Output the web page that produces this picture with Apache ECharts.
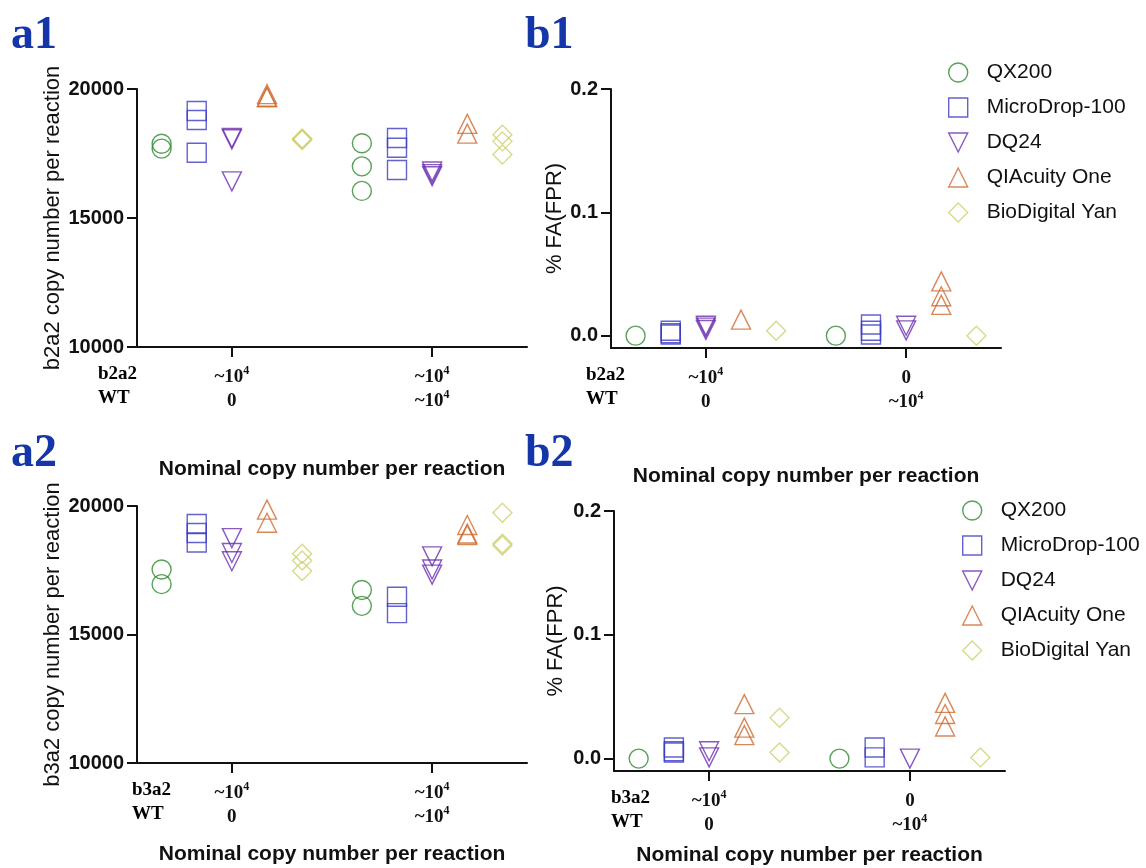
<!DOCTYPE html>
<html>
<head>
<meta charset="utf-8">
<script src="https://cdn.jsdelivr.net/npm/echarts@6/dist/echarts.min.js"></script>
<style>
  html, body { margin: 0; padding: 0; background: #fff; }
  #chart { width: 1146px; height: 868px; }
</style>
</head>
<body>
<div id="chart"></div>
<script>
  // instruments (legend order) and their marker / colour
  const instruments = ['QX200', 'MicroDrop-100', 'DQ24', 'QIAcuity One', 'BioDigital Yan'];
  const symbols = ['circle', 'rect', 'path://M0,0L10,0L5,10Z', 'triangle', 'diamond'];
  const colors = ['#2f8a2f', '#3b3bc4', '#6b2fb0', '#d06a30', '#cfcf6e'];

  // values per instrument: [group 1 replicates, group 2 replicates]
  const a1Values = [
    [[17880, 17690], [17900, 17000, 16050]],
    [[19150, 18800, 17530], [18100, 17720, 16860]],
    [[18100, 18050, 16420], [16800, 16700, 16620]],
    [[19800, 19700, 19680], [18650, 18270]],
    [[18080, 18020, 18050], [18230, 17970, 17460]]
  ];
  const b1Values = [
    [[0], [0]],
    [[0.004, 0.002, 0.001], [0.009, 0.004, 0.001]],
    [[0.008, 0.0065, 0.0046], [0.008, 0.0043]],
    [[0.013], [0.044, 0.032, 0.025]],
    [[0.004], [0]]
  ];
  const a2Values = [
    [[17530, 16960], [16730, 16115]],
    [[19300, 18950, 18580], [16470, 15830]],
    [[18750, 18170, 17850], [18040, 17530, 17330]],
    [[19860, 19350], [19260, 18930, 18870]],
    [[18140, 17880, 17470], [19740, 18530, 18460]]
  ];
  const b2Values = [
    [[0], [0]],
    [[0.009, 0.006, 0.005], [0.009, 0.001]],
    [[0.006, 0.001], [0]],
    [[0.044, 0.025, 0.019], [0.045, 0.036, 0.026]],
    [[0.033, 0.005], [0.001]]
  ];

  // tick labels
  const yTicksA = [10000, 15000, 20000];
  const yTicksB = [0, 0.1, 0.2];
  const groupLabelsA = [['~10^4', '0'], ['~10^4', '~10^4']];
  const groupLabelsB = [['~10^4', '0'], ['0', '~10^4']];
  const rowLabels1 = ['b2a2', 'WT'];
  const rowLabels2 = ['b3a2', 'WT'];

  const GROUP_GAP = 5.7;   // distance between the two groups on the x scale
  const SANS = '"Liberation Sans", Arial, sans-serif';
  const SERIF = '"Liberation Serif", "Times New Roman", serif';

  const panels = [
    { letter: 'a1', values: a1Values, yName: 'b2a2 copy number per reaction', labels: groupLabelsA, rows: rowLabels1,
      grid: { left: 137, top: 89, width: 390, height: 258 }, yGap: 73, xGap: 112, rowX: 98, letterPos: [11, 13] },
    { letter: 'b1', values: b1Values, yName: '% FA(FPR)', labels: groupLabelsB, rows: rowLabels1,
      grid: { left: 611, top: 89, width: 390, height: 259 }, yGap: 44, xGap: 118, rowX: 586, letterPos: [525, 13] },
    { letter: 'a2', values: a2Values, yName: 'b3a2 copy number per reaction', labels: groupLabelsA, rows: rowLabels2,
      grid: { left: 137, top: 506, width: 390, height: 257 }, yGap: 73, xGap: 81, rowX: 132, letterPos: [11, 431] },
    { letter: 'b2', values: b2Values, yName: '% FA(FPR)', labels: groupLabelsB, rows: rowLabels2,
      grid: { left: 614, top: 511, width: 391, height: 260 }, yGap: 47, xGap: 74, rowX: 611, letterPos: [525, 431] }
  ];

  function supText(s) {
    return s.indexOf('^') >= 0 ? '{m|' + s.split('^')[0] + '}{s|' + s.split('^')[1] + '}' : '{m|' + s + '}';
  }

  const richTick = {
    m: { fontFamily: SERIF, fontWeight: 'bold', fontSize: 19, lineHeight: 24, color: '#111' },
    s: { fontFamily: SERIF, fontWeight: 'bold', fontSize: 12, lineHeight: 14, verticalAlign: 'top', color: '#111' }
  };

  const axisLine = { show: true, onZero: false, lineStyle: { color: '#111', width: 2 } };
  const axisTick = { show: true, length: 10, lineStyle: { color: '#111', width: 2 } };
  const yLabelStyle = { margin: 13, fontFamily: SANS, fontWeight: 'bold', fontSize: 20, color: '#111' };

  let grid = [], xAxis = [], yAxis = [], series = [], graphic = [];

  panels.forEach((p, pi) => {
    grid.push(p.grid);
    const isB = pi % 2 === 1;
    xAxis.push({
      gridIndex: pi, type: 'value', min: -2.7, max: 8.4,
      name: 'Nominal copy number per reaction', nameLocation: 'middle', nameGap: p.xGap,
      nameTextStyle: { fontFamily: SANS, fontWeight: 'bold', fontSize: 21, color: '#111' },
      axisLine: axisLine,
      axisTick: Object.assign({ customValues: [0, GROUP_GAP] }, axisTick),
      axisLabel: {
        customValues: [0, GROUP_GAP], margin: 18,
        formatter: v => {
          const g = Math.round(v / GROUP_GAP);
          return p.labels[g].map(supText).join('\n');
        },
        rich: richTick
      },
      splitLine: { show: false }
    });
    const yBase = {
      gridIndex: pi, type: 'value',
      name: p.yName, nameLocation: 'middle', nameGap: p.yGap,
      nameTextStyle: { fontFamily: SANS, fontSize: 22, color: '#111' },
      axisLine: axisLine, splitLine: { show: false }
    };
    if (isB) {
      yAxis.push(Object.assign(yBase, {
        min: -0.01, max: 0.2,
        axisTick: Object.assign({ customValues: yTicksB }, axisTick),
        axisLabel: Object.assign({ customValues: yTicksB, formatter: v => v.toFixed(1) }, yLabelStyle)
      }));
    } else {
      yAxis.push(Object.assign(yBase, {
        min: yTicksA[0], max: yTicksA[2], interval: yTicksA[1] - yTicksA[0],
        axisTick: axisTick,
        axisLabel: Object.assign({ formatter: v => String(v) }, yLabelStyle)
      }));
    }

    // one scatter series per instrument, x = group position + instrument slot
    instruments.forEach((name, i) => {
      const data = [];
      p.values[i].forEach((reps, g) => {
        reps.forEach(v => data.push([g * GROUP_GAP + i - 2, v]));
      });
      series.push({
        name: name, type: 'scatter', xAxisIndex: pi, yAxisIndex: pi,
        symbol: symbols[i], symbolSize: 19,
        itemStyle: { color: 'transparent', borderColor: colors[i], borderWidth: 1.4 },
        data: data
      });
    });

    // panel letter
    graphic.push({
      type: 'text', left: p.letterPos[0], top: p.letterPos[1],
      style: { text: p.letter, font: 'bold 46px ' + SERIF, fill: '#1436a8' }
    });
    // row labels left of the tick labels
    graphic.push({
      type: 'text', left: p.rowX, top: p.grid.top + p.grid.height + 18,
      style: {
        text: p.rows.map(r => '{m|' + r + '}').join('\n'),
        rich: richTick
      }
    });
  });

  const legendBase = {
    data: instruments, orient: 'vertical', itemWidth: 19, itemHeight: 19, itemGap: 14,
    selectedMode: false, padding: 0,
    itemStyle: { borderWidth: 1.4 },
    textStyle: { fontFamily: SANS, fontSize: 21, color: '#111', padding: [0, 0, 0, 14] }
  };

  let myChart = echarts.init(document.getElementById('chart'));
  myChart.setOption({
    animation: false,
    backgroundColor: '#fff',
    grid: grid,
    xAxis: xAxis,
    yAxis: yAxis,
    legend: [
      Object.assign({ left: 948, top: 62 }, legendBase),
      Object.assign({ left: 962, top: 500 }, legendBase)
    ],
    graphic: graphic,
    series: series
  });
</script>
</body>
</html>
